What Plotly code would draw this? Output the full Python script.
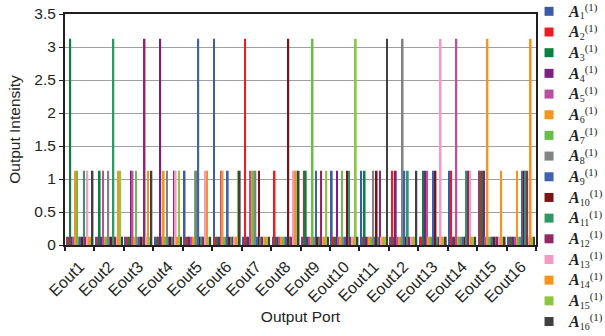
import plotly.graph_objects as go

ports = ["Eout1", "Eout2", "Eout3", "Eout4", "Eout5", "Eout6", "Eout7", "Eout8",
         "Eout9", "Eout10", "Eout11", "Eout12", "Eout13", "Eout14", "Eout15", "Eout16"]

A1 = [0.125, 0.125, 0.125, 0.125, 1.125, 3.125, 0.125, 0.125, 0.125, 1.125, 1.125, 0.125, 0.125, 1.125, 1.125, 0.125]
A2 = [0.125, 0.125, 0.125, 0.125, 0.125, 0.125, 3.125, 1.125, 1.125, 0.125, 0.125, 1.125, 0.125, 1.125, 1.125, 0.125]
A3 = [3.125, 1.125, 0.125, 0.125, 0.125, 0.125, 0.125, 0.125, 1.125, 0.125, 1.125, 0.125, 1.125, 0.125, 1.125, 0.125]
A4 = [0.125, 0.125, 1.125, 3.125, 0.125, 0.125, 0.125, 0.125, 0.125, 1.125, 0.125, 1.125, 1.125, 0.125, 1.125, 0.125]
A5 = [0.125, 1.125, 1.125, 0.125, 0.125, 1.125, 1.125, 0.125, 0.125, 0.125, 0.125, 0.125, 1.125, 3.125, 0.125, 0.125]
A6 = [1.125, 0.125, 0.125, 1.125, 0.125, 1.125, 1.125, 0.125, 0.125, 0.125, 0.125, 0.125, 0.125, 0.125, 3.125, 1.125]
A7 = [1.125, 0.125, 1.125, 0.125, 1.125, 0.125, 1.125, 0.125, 3.125, 1.125, 0.125, 0.125, 0.125, 0.125, 0.125, 0.125]
A8 = [0.125, 1.125, 0.125, 1.125, 1.125, 0.125, 1.125, 0.125, 0.125, 0.125, 1.125, 3.125, 0.125, 0.125, 0.125, 0.125]
A9 = [0.125, 0.125, 0.125, 0.125, 3.125, 1.125, 0.125, 0.125, 1.125, 0.125, 0.125, 1.125, 1.125, 0.125, 0.125, 1.125]
A10 = [0.125, 0.125, 0.125, 0.125, 0.125, 0.125, 1.125, 3.125, 0.125, 1.125, 1.125, 0.125, 1.125, 0.125, 0.125, 1.125]
A11 = [1.125, 3.125, 0.125, 0.125, 0.125, 0.125, 0.125, 0.125, 0.125, 1.125, 0.125, 1.125, 0.125, 1.125, 0.125, 1.125]
A12 = [0.125, 0.125, 3.125, 1.125, 0.125, 0.125, 0.125, 0.125, 1.125, 0.125, 1.125, 0.125, 0.125, 1.125, 0.125, 1.125]
A13 = [1.125, 0.125, 0.125, 1.125, 1.125, 0.125, 0.125, 1.125, 0.125, 0.125, 0.125, 0.125, 3.125, 1.125, 0.125, 0.125]
A14 = [0.125, 1.125, 1.125, 0.125, 1.125, 0.125, 0.125, 1.125, 0.125, 0.125, 0.125, 0.125, 0.125, 0.125, 1.125, 3.125]
A15 = [0.125, 1.125, 0.125, 1.125, 0.125, 1.125, 0.125, 1.125, 1.125, 3.125, 0.125, 0.125, 0.125, 0.125, 0.125, 0.125]
A16 = [1.125, 0.125, 1.125, 0.125, 0.125, 1.125, 0.125, 1.125, 0.125, 0.125, 3.125, 1.125, 0.125, 0.125, 0.125, 0.125]

series = [A1, A2, A3, A4, A5, A6, A7, A8, A9, A10, A11, A12, A13, A14, A15, A16]
series_index = ["1", "2", "3", "4", "5", "6", "7", "8",
                "9", "10", "11", "12", "13", "14", "15", "16"]
colors = ["#3B5BA8", "#ED1C24", "#0B8040", "#7D2180", "#B94F9E", "#F7941D",
          "#6ABD45", "#808285", "#3E62AE", "#7B1416", "#2E9964", "#922863",
          "#F49AC5", "#F7941D", "#8DC63F", "#404040"]

y_ticks = [0, 0.5, 1, 1.5, 2, 2.5, 3, 3.5]
y_ticktext = ["0", "0.5", "1", "1.5", "2", "2.5", "3", "3.5"]

fig = go.Figure()
for vals, idx, col in zip(series, series_index, colors):
    fig.add_trace(go.Bar(x=ports, y=vals, marker=dict(color=col, line=dict(width=0)),
                         showlegend=False, name="A" + idx))
for idx, col in zip(series_index, colors):
    fig.add_trace(go.Scatter(
        x=[None], y=[None], mode="markers",
        marker=dict(symbol="square", size=9, color=col),
        name=('<b><i><span style="font-size:16px">A</span></i></b>'
              '<sub><span style="font-size:10px">' + idx + '</span></sub>'
              '<sup><span style="font-size:11px">(1)</span></sup>'),
        showlegend=True))

fig.update_layout(
    width=605, height=336,
    margin=dict(l=65, r=69, t=14, b=91, autoexpand=False),
    paper_bgcolor="white", plot_bgcolor="white",
    barmode="group", bargap=0.068, bargroupgap=0,
    font=dict(family="Liberation Sans, Arial, sans-serif", size=15, color="#231F20"),
    legend=dict(x=0.9852, xanchor="left", y=1.078, yanchor="top",
                font=dict(family="Liberation Serif, Times New Roman, serif", size=13.6, color="#231F20"),
                bgcolor="rgba(0,0,0,0)", borderwidth=0, itemwidth=30,
                tracegroupgap=0, maxheight=400),
)
fig.update_xaxes(
    type="category", tickson="boundaries", ticks="outside", ticklen=4, tickwidth=2,
    tickcolor="#231F20", tickangle=-45, showline=True, linewidth=2, linecolor="#231F20",
    mirror=True, showgrid=False, tickfont=dict(size=16), ticklabelstandoff=4,
    title=dict(text="Output Port", font=dict(size=15.5), standoff=6),
)
fig.update_yaxes(
    range=[0, 3.5], tickvals=y_ticks, ticktext=y_ticktext, ticks="outside", ticklen=4,
    tickwidth=1, tickcolor="#231F20", showline=True, linewidth=2, linecolor="#231F20",
    mirror=True, showgrid=True, gridcolor="#A0A0A0", gridwidth=1, zeroline=False,
    tickfont=dict(size=15.5),
    title=dict(text="Output Intensity", font=dict(size=15.5), standoff=10),
)

fig.write_html("out.html")
